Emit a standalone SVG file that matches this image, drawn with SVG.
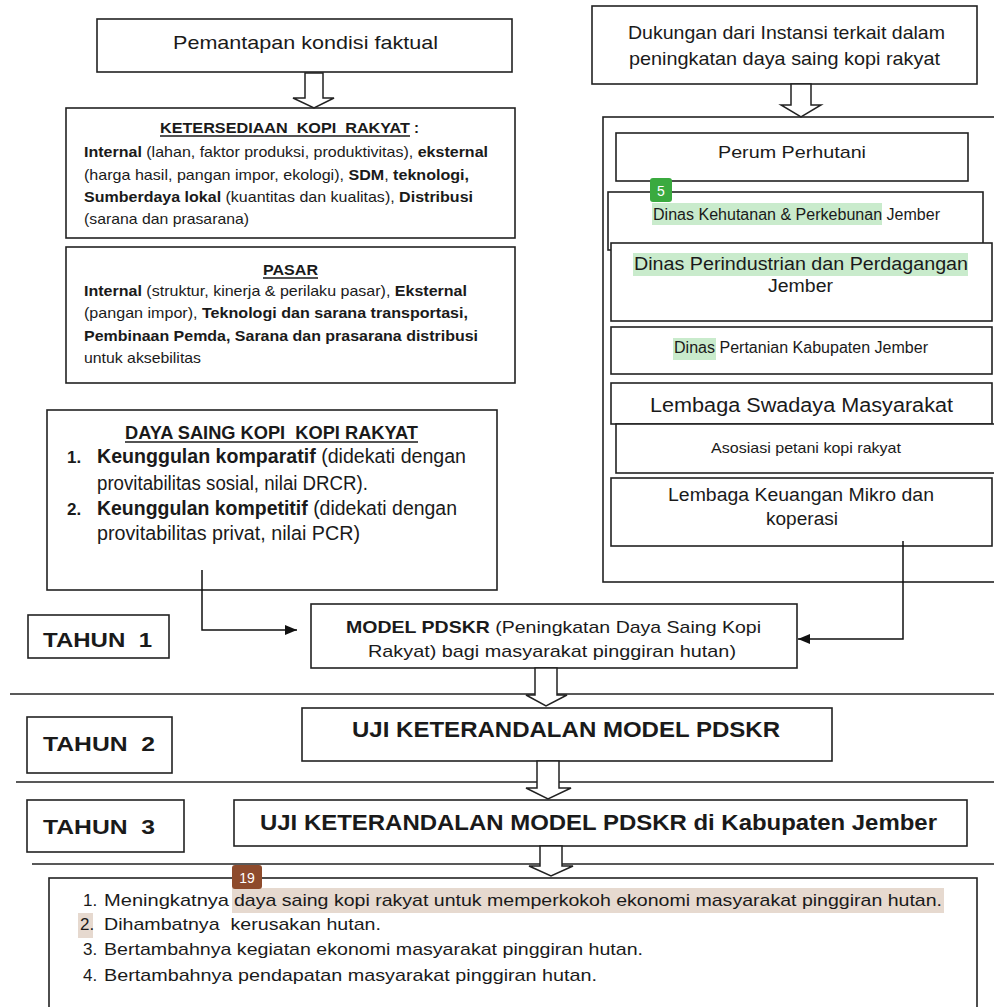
<svg xmlns="http://www.w3.org/2000/svg" width="994" height="1007" viewBox="0 0 994 1007">
<defs>
<style>
.box{fill:#fff;stroke:#222;stroke-width:1.6}
.n{font-family:"Liberation Sans Narrow","Liberation Sans",Arial,sans-serif;fill:#1a1a1a}
.r{font-family:"Liberation Sans",Arial,sans-serif;fill:#1a1a1a}
.b{font-weight:bold}
.ha{fill:#fff;stroke:#222;stroke-width:1.5;stroke-linejoin:miter}
.sep{stroke:#222;stroke-width:1.5}
.ul{stroke:#1a1a1a;stroke-width:1.3}
.conn{fill:none;stroke:#111;stroke-width:1.5}
.hlg{fill:#c9ebcc}
.hlb{fill:#e6d9cf}
</style>
<marker id="ah" viewBox="0 0 12 10" refX="12" refY="5" markerWidth="12" markerHeight="10" markerUnits="userSpaceOnUse" orient="auto">
<path d="M0,0 L12,5 L0,10 z" fill="#111"/>
</marker>
</defs>
<rect width="994" height="1007" fill="#fff"/>

<g id="separators">
<line class="sep" x1="10" y1="694" x2="994" y2="694"/>
<line class="sep" x1="16" y1="782" x2="994" y2="782"/>
<line class="sep" x1="32" y1="864" x2="994" y2="864"/>
</g>

<g id="n-pemantapan">
<rect class="box" x="97" y="19" width="415" height="53"/>
<text class="n" x="173" y="49" font-size="19" textLength="265" lengthAdjust="spacingAndGlyphs">Pemantapan kondisi faktual</text>
</g>

<g id="n-ketersediaan">
<rect class="box" x="66" y="108" width="449" height="130"/>
<text class="n b" x="160" y="133" font-size="15" textLength="250" lengthAdjust="spacingAndGlyphs">KETERSEDIAAN&#160; KOPI&#160; RAKYAT</text>
<line class="ul" x1="160" y1="136" x2="410" y2="136"/>
<text class="n b" x="414" y="133" font-size="15">:</text>
<text class="n" x="84" y="157" font-size="15" textLength="404" lengthAdjust="spacingAndGlyphs"><tspan class="b">Internal</tspan> (lahan, faktor produksi, produktivitas), <tspan class="b">eksternal</tspan></text>
<text class="n" x="84" y="180" font-size="15" textLength="385" lengthAdjust="spacingAndGlyphs">(harga hasil, pangan impor, ekologi), <tspan class="b">SDM</tspan>, <tspan class="b">teknologi,</tspan></text>
<text class="n" x="84" y="202" font-size="15" textLength="389" lengthAdjust="spacingAndGlyphs"><tspan class="b">Sumberdaya lokal</tspan> (kuantitas dan kualitas), <tspan class="b">Distribusi</tspan></text>
<text class="n" x="84" y="224" font-size="15" textLength="165" lengthAdjust="spacingAndGlyphs">(sarana dan prasarana)</text>
</g>

<g id="n-pasar">
<rect class="box" x="66" y="247" width="449" height="136"/>
<text class="n b" x="263" y="275" font-size="15" textLength="55" lengthAdjust="spacingAndGlyphs">PASAR</text>
<line class="ul" x1="263" y1="278" x2="318" y2="278"/>
<text class="n" x="84" y="296" font-size="15" textLength="383" lengthAdjust="spacingAndGlyphs"><tspan class="b">Internal</tspan> (struktur, kinerja &amp; perilaku pasar), <tspan class="b">Eksternal</tspan></text>
<text class="n" x="84" y="318" font-size="15" textLength="384" lengthAdjust="spacingAndGlyphs">(pangan impor), <tspan class="b">Teknologi dan sarana transportasi,</tspan></text>
<text class="n b" x="84" y="341" font-size="15" textLength="394" lengthAdjust="spacingAndGlyphs">Pembinaan Pemda, Sarana dan prasarana distribusi</text>
<text class="n" x="84" y="363" font-size="15" textLength="117" lengthAdjust="spacingAndGlyphs">untuk aksebilitas</text>
</g>

<g id="n-dayasaing">
<rect class="box" x="47" y="410" width="450" height="180"/>
<text class="n b" x="125" y="439" font-size="18" textLength="293" lengthAdjust="spacingAndGlyphs">DAYA SAING KOPI&#160; KOPI RAKYAT</text>
<line class="ul" x1="125" y1="442" x2="418" y2="442"/>
<text class="n b" x="67" y="463" font-size="17">1.</text>
<text class="n" x="97" y="463" font-size="20" textLength="369" lengthAdjust="spacingAndGlyphs"><tspan class="b">Keunggulan komparatif</tspan> (didekati dengan</text>
<text class="n" x="97" y="490" font-size="20" textLength="271" lengthAdjust="spacingAndGlyphs">provitabilitas sosial, nilai DRCR).</text>
<text class="n b" x="67" y="515" font-size="17">2.</text>
<text class="n" x="97" y="515" font-size="20" textLength="360" lengthAdjust="spacingAndGlyphs"><tspan class="b">Keunggulan kompetitif</tspan> (didekati dengan</text>
<text class="n" x="97" y="540" font-size="20" textLength="263" lengthAdjust="spacingAndGlyphs">provitabilitas privat, nilai PCR)</text>
</g>

<g id="n-dukungan">
<rect class="box" x="592" y="6" width="385" height="78"/>
<text class="n" x="628" y="39" font-size="19" textLength="317" lengthAdjust="spacingAndGlyphs">Dukungan dari Instansi terkait dalam</text>
<text class="n" x="629" y="65" font-size="19" textLength="311" lengthAdjust="spacingAndGlyphs">peningkatan daya saing kopi rakyat</text>
</g>

<g id="n-instansi-container">
<rect class="box" x="603" y="117" width="400" height="465"/>
</g>

<g id="n-perhutani">
<rect class="box" x="616" y="133" width="352" height="48"/>
<text class="r" x="718" y="158" font-size="17" textLength="148" lengthAdjust="spacingAndGlyphs">Perum Perhutani</text>
</g>

<g id="n-dishutbun">
<rect class="box" x="608" y="192" width="375" height="58"/>
<rect class="hlg" x="652" y="203" width="230" height="22"/>
<text class="n" x="653" y="220" font-size="16" textLength="287" lengthAdjust="spacingAndGlyphs">Dinas Kehutanan &amp; Perkebunan Jember</text>
</g>

<g id="n-disperindag">
<rect class="box" x="611" y="243" width="381" height="78"/>
<rect class="hlg" x="633" y="253" width="335" height="23"/>
<text class="r" x="634" y="270" font-size="18" textLength="334" lengthAdjust="spacingAndGlyphs">Dinas Perindustrian dan Perdagangan</text>
<text class="r" x="768" y="292" font-size="18" textLength="65" lengthAdjust="spacingAndGlyphs">Jember</text>
</g>

<g id="n-badge5">
<rect x="650" y="178" width="22" height="24" rx="3" fill="#3aaa3f"/>
<text class="r" x="661" y="196" font-size="14" text-anchor="middle" style="fill:#fff">5</text>
</g>

<g id="n-pertanian">
<rect class="box" x="611" y="327" width="381" height="47"/>
<rect class="hlg" x="673" y="338" width="43" height="22"/>
<text class="n" x="674" y="353" font-size="16" textLength="254" lengthAdjust="spacingAndGlyphs">Dinas Pertanian Kabupaten Jember</text>
</g>

<g id="n-lsm">
<rect class="box" x="611" y="383" width="381" height="41"/>
<text class="r" x="650" y="412" font-size="20" textLength="303" lengthAdjust="spacingAndGlyphs">Lembaga Swadaya Masyarakat</text>
</g>

<g id="n-asosiasi">
<rect class="box" x="616" y="424" width="390" height="49"/>
<text class="n" x="711" y="453" font-size="15" textLength="190" lengthAdjust="spacingAndGlyphs">Asosiasi petani kopi rakyat</text>
</g>

<g id="n-lkm">
<rect class="box" x="611" y="478" width="381" height="68"/>
<text class="r" x="668" y="501" font-size="18" textLength="266" lengthAdjust="spacingAndGlyphs">Lembaga Keuangan Mikro dan</text>
<text class="r" x="766" y="525" font-size="18" textLength="72" lengthAdjust="spacingAndGlyphs">koperasi</text>
</g>

<g id="n-tahun1">
<rect class="box" x="28" y="615" width="141" height="43"/>
<text class="n b" x="43" y="647" font-size="21" textLength="109" lengthAdjust="spacingAndGlyphs">TAHUN&#160; 1</text>
</g>

<g id="n-model">
<rect class="box" x="311" y="604" width="486" height="64"/>
<text class="n" x="346" y="633" font-size="17" textLength="415" lengthAdjust="spacingAndGlyphs"><tspan class="b">MODEL PDSKR</tspan> (Peningkatan Daya Saing Kopi</text>
<text class="n" x="368" y="657" font-size="17" textLength="368" lengthAdjust="spacingAndGlyphs">Rakyat) bagi masyarakat pinggiran hutan)</text>
</g>

<g id="n-tahun2">
<rect class="box" x="27" y="717" width="145" height="56"/>
<text class="n b" x="43" y="751" font-size="21" textLength="112" lengthAdjust="spacingAndGlyphs">TAHUN&#160; 2</text>
</g>

<g id="n-uji1">
<rect class="box" x="302" y="708" width="530" height="53"/>
<text class="n b" x="352" y="737" font-size="22" textLength="428" lengthAdjust="spacingAndGlyphs">UJI KETERANDALAN MODEL PDSKR</text>
</g>

<g id="n-tahun3">
<rect class="box" x="27" y="800" width="157" height="52"/>
<text class="n b" x="43" y="834" font-size="21" textLength="112" lengthAdjust="spacingAndGlyphs">TAHUN&#160; 3</text>
</g>

<g id="n-uji2">
<rect class="box" x="234" y="800" width="733" height="46"/>
<text class="n b" x="260" y="830" font-size="22" textLength="677" lengthAdjust="spacingAndGlyphs">UJI KETERANDALAN MODEL PDSKR di Kabupaten Jember</text>
</g>

<g id="n-outcomes">
<rect class="box" x="49" y="878" width="928" height="140"/>
<rect class="hlb" x="232" y="888" width="712" height="25"/>
<rect class="hlb" x="78" y="913" width="15" height="25"/>
<text class="n" x="83" y="906" font-size="17">1.</text>
<text class="n" x="104" y="906" font-size="17" textLength="125" lengthAdjust="spacingAndGlyphs">Meningkatnya</text>
<text class="n" x="234" y="906" font-size="17" textLength="708" lengthAdjust="spacingAndGlyphs">daya saing kopi rakyat untuk memperkokoh ekonomi masyarakat pinggiran hutan.</text>
<text class="n" x="80" y="930" font-size="17">2.</text>
<text class="n" x="104" y="930" font-size="17" textLength="277" lengthAdjust="spacingAndGlyphs">Dihambatnya&#160; kerusakan hutan.</text>
<text class="n" x="83" y="955" font-size="17">3.</text>
<text class="n" x="104" y="955" font-size="17" textLength="539" lengthAdjust="spacingAndGlyphs">Bertambahnya kegiatan ekonomi masyarakat pinggiran hutan.</text>
<text class="n" x="83" y="981" font-size="17">4.</text>
<text class="n" x="104" y="981" font-size="17" textLength="493" lengthAdjust="spacingAndGlyphs">Bertambahnya pendapatan masyarakat pinggiran hutan.</text>
</g>

<g id="n-badge19">
<rect x="232" y="865" width="30" height="24" rx="3" fill="#8e4b2c"/>
<text class="r" x="247" y="883" font-size="14" text-anchor="middle" style="fill:#fff">19</text>
</g>

<g id="connectors">
<polygon class="ha" points="305,73 323,73 323,98 334,98 314,108 293,98 305,98"/>
<polygon class="ha" points="791,84 811,84 811,105 821,105 801,117 781,105 791,105"/>
<polygon class="ha" points="535,668 557,668 557,695 567,695 546,706 526,695 535,695"/>
<polygon class="ha" points="537,761 559,761 559,788 571,788 548,799 526,788 537,788"/>
<polygon class="ha" points="540,846 562,846 562,866 573,866 551,876 529,866 540,866"/>
<polyline class="conn" points="202,570 202,630 297,630" marker-end="url(#ah)"/>
<polyline class="conn" points="903,541 903,639 798,639" marker-end="url(#ah)"/>
</g>
</svg>
